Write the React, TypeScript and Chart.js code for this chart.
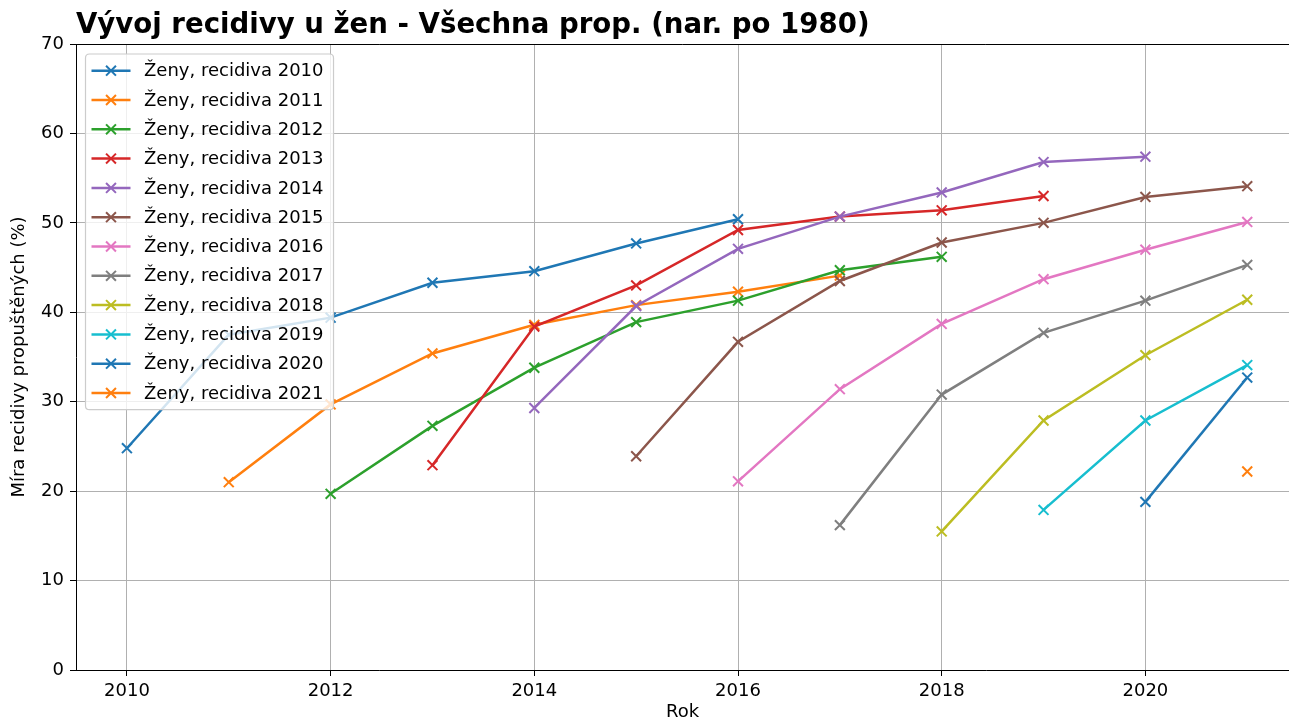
import React, { useEffect, useRef } from "react";
import { Chart, registerables } from "chart.js";

Chart.register(...registerables);

const FONT = "'DejaVu Sans', 'Liberation Sans', sans-serif";

const years = [2010, 2011, 2012, 2013, 2014, 2015, 2016, 2017, 2018, 2019, 2020, 2021];
const xTicks = [2010, 2012, 2014, 2016, 2018, 2020];

const s2010 = [24.8, 37.5, 39.4, 43.3, 44.6, 47.7, 50.4, null, null, null, null, null];
const s2011 = [null, 21.0, 29.7, 35.4, 38.6, 40.8, 42.3, 44.1, null, null, null, null];
const s2012 = [null, null, 19.7, 27.3, 33.8, 38.9, 41.3, 44.7, 46.2, null, null, null];
const s2013 = [null, null, null, 22.9, 38.4, 43.0, 49.2, 50.7, 51.4, 53.0, null, null];
const s2014 = [null, null, null, null, 29.3, 40.7, 47.1, 50.7, 53.4, 56.8, 57.4, null];
const s2015 = [null, null, null, null, null, 23.9, 36.7, 43.5, 47.8, 50.0, 52.9, 54.1];
const s2016 = [null, null, null, null, null, null, 21.1, 31.4, 38.7, 43.7, 47.0, 50.1];
const s2017 = [null, null, null, null, null, null, null, 16.2, 30.8, 37.7, 41.3, 45.3];
const s2018 = [null, null, null, null, null, null, null, null, 15.5, 27.9, 35.2, 41.4];
const s2019 = [null, null, null, null, null, null, null, null, null, 17.9, 27.9, 34.1];
const s2020 = [null, null, null, null, null, null, null, null, null, null, 18.8, 32.7];
const s2021 = [null, null, null, null, null, null, null, null, null, null, null, 22.2];

const seriesLabels = [
  "Ženy, recidiva 2010",
  "Ženy, recidiva 2011",
  "Ženy, recidiva 2012",
  "Ženy, recidiva 2013",
  "Ženy, recidiva 2014",
  "Ženy, recidiva 2015",
  "Ženy, recidiva 2016",
  "Ženy, recidiva 2017",
  "Ženy, recidiva 2018",
  "Ženy, recidiva 2019",
  "Ženy, recidiva 2020",
  "Ženy, recidiva 2021",
];
const seriesValues = [s2010, s2011, s2012, s2013, s2014, s2015, s2016, s2017, s2018, s2019, s2020, s2021];

const colors = [
  "#1f77b4", "#ff7f0e", "#2ca02c", "#d62728", "#9467bd", "#8c564b",
  "#e377c2", "#7f7f7f", "#bcbd22", "#17becf", "#1f77b4", "#ff7f0e",
];

const titleText = "Vývoj recidivy u žen - Všechna prop. (nar. po 1980)";
const xTitle = "Rok";
const yTitle = "Míra recidivy propuštěných (%)";

const POINT_R = 7;
const TXT = 18;

function drawCross(ctx: CanvasRenderingContext2D, x: number, y: number, r: number) {
  const d = r * Math.SQRT1_2;
  ctx.beginPath();
  ctx.moveTo(x - d, y - d);
  ctx.lineTo(x + d, y + d);
  ctx.moveTo(x - d, y + d);
  ctx.lineTo(x + d, y - d);
  ctx.stroke();
}

const framePlugin = {
  id: "framePlugin",
  afterDraw(chart: any) {
    const ctx = chart.ctx as CanvasRenderingContext2D;
    const a = chart.chartArea;
    ctx.save();
    // top spine
    ctx.strokeStyle = "#000";
    ctx.lineWidth = 1;
    ctx.beginPath();
    ctx.moveTo(a.left, a.top + 0.5);
    ctx.lineTo(a.right, a.top + 0.5);
    ctx.stroke();

    // title
    ctx.fillStyle = "#000";
    ctx.font = `bold 27.6px ${FONT}`;
    ctx.textAlign = "left";
    ctx.textBaseline = "alphabetic";
    ctx.fillText(titleText, a.left, 33);

    // legend
    ctx.font = `${TXT}px ${FONT}`;
    const datasets = chart.data.datasets;
    let maxW = 0;
    datasets.forEach((ds: any) => {
      maxW = Math.max(maxW, ctx.measureText(ds.label).width);
    });
    const bx = a.left + 9.5;
    const by = a.top + 10;
    const rowH = 29.3;
    const firstY = by + 16.7;
    const textX = bx + 58.5;
    const bw = textX - bx + maxW + 10;
    const bh = 16.7 * 2 + rowH * (datasets.length - 1);
    const rad = 4;
    ctx.beginPath();
    ctx.moveTo(bx + rad, by);
    ctx.lineTo(bx + bw - rad, by);
    ctx.quadraticCurveTo(bx + bw, by, bx + bw, by + rad);
    ctx.lineTo(bx + bw, by + bh - rad);
    ctx.quadraticCurveTo(bx + bw, by + bh, bx + bw - rad, by + bh);
    ctx.lineTo(bx + rad, by + bh);
    ctx.quadraticCurveTo(bx, by + bh, bx, by + bh - rad);
    ctx.lineTo(bx, by + rad);
    ctx.quadraticCurveTo(bx, by, bx + rad, by);
    ctx.closePath();
    ctx.fillStyle = "rgba(255,255,255,0.8)";
    ctx.fill();
    ctx.strokeStyle = "#cccccc";
    ctx.lineWidth = 1.2;
    ctx.stroke();

    datasets.forEach((ds: any, i: number) => {
      const y = firstY + i * rowH;
      ctx.strokeStyle = ds.borderColor;
      ctx.lineWidth = 2.5;
      ctx.beginPath();
      ctx.moveTo(bx + 6, y);
      ctx.lineTo(bx + 45, y);
      ctx.stroke();
      ctx.lineWidth = 2;
      drawCross(ctx, bx + 25.5, y, POINT_R);
      ctx.fillStyle = "#000";
      ctx.textBaseline = "middle";
      ctx.fillText(ds.label, textX, y + 1);
    });
    ctx.restore();
  },
};

export default function App() {
  const ref = useRef<HTMLCanvasElement | null>(null);

  useEffect(() => {
    document.body.style.margin = "0";
    document.body.style.overflow = "hidden";
    const canvas = ref.current;
    if (!canvas) return;
    const datasets = seriesValues.map((vals, i) => ({
      label: seriesLabels[i],
      data: years
        .map((yr, j) => ({ x: yr, y: vals[j] }))
        .filter((p) => p.y !== null),
      borderColor: colors[i],
      backgroundColor: colors[i],
      borderWidth: 2.5,
      pointStyle: "crossRot" as const,
      pointRadius: POINT_R,
      pointBorderWidth: 2,
      pointBorderColor: colors[i],
      pointHoverRadius: POINT_R,
      fill: false,
      tension: 0,
      order: seriesValues.length - 1 - i,
    }));

    const chart = new Chart(canvas, {
      type: "line",
      data: { datasets },
      options: {
        responsive: false,
        animation: false,
        devicePixelRatio: 1,
        layout: { autoPadding: false, padding: { top: 44, left: 0, right: 0, bottom: 0 } },
        plugins: {
          legend: { display: false },
          tooltip: { enabled: false },
          title: { display: false },
        },
        scales: {
          x: {
            type: "linear",
            min: 2009.5,
            max: 2021.41,
            afterBuildTicks: (scale: any) => {
              scale.ticks = xTicks.map((v) => ({ value: v }));
            },
            afterFit: (scale: any) => {
              scale.height = 53;
            },
            grid: {
              color: "#b0b0b0",
              lineWidth: 1,
              tickColor: "#000",
              tickLength: 6,
              drawOnChartArea: true,
            },
            border: { color: "#000", width: 1 },
            ticks: {
              color: "#000",
              font: { family: FONT, size: TXT },
              padding: 5,
              maxRotation: 0,
              callback: (v: any) => String(v),
            },
            title: {
              display: true,
              text: xTitle,
              color: "#000",
              font: { family: FONT, size: TXT },
              padding: { top: 0, bottom: 0 },
            },
          },
          y: {
            type: "linear",
            min: 0,
            max: 70,
            afterFit: (scale: any) => {
              scale.width = 76;
            },
            grid: {
              color: "#b0b0b0",
              lineWidth: 1,
              tickColor: "#000",
              tickLength: 6,
            },
            border: { color: "#000", width: 1 },
            ticks: {
              stepSize: 10,
              color: "#000",
              font: { family: FONT, size: TXT },
              padding: 6,
            },
            title: {
              display: true,
              text: yTitle,
              color: "#000",
              font: { family: FONT, size: TXT },
              padding: { top: 9, bottom: 0 },
            },
          },
        },
      },
      plugins: [framePlugin],
    });
    return () => chart.destroy();
  }, []);

  return (
    <div style={{ width: 1289, height: 723, position: "relative" }}>
      <canvas ref={ref} width={1289} height={723} style={{ display: "block" }} />
    </div>
  );
}
